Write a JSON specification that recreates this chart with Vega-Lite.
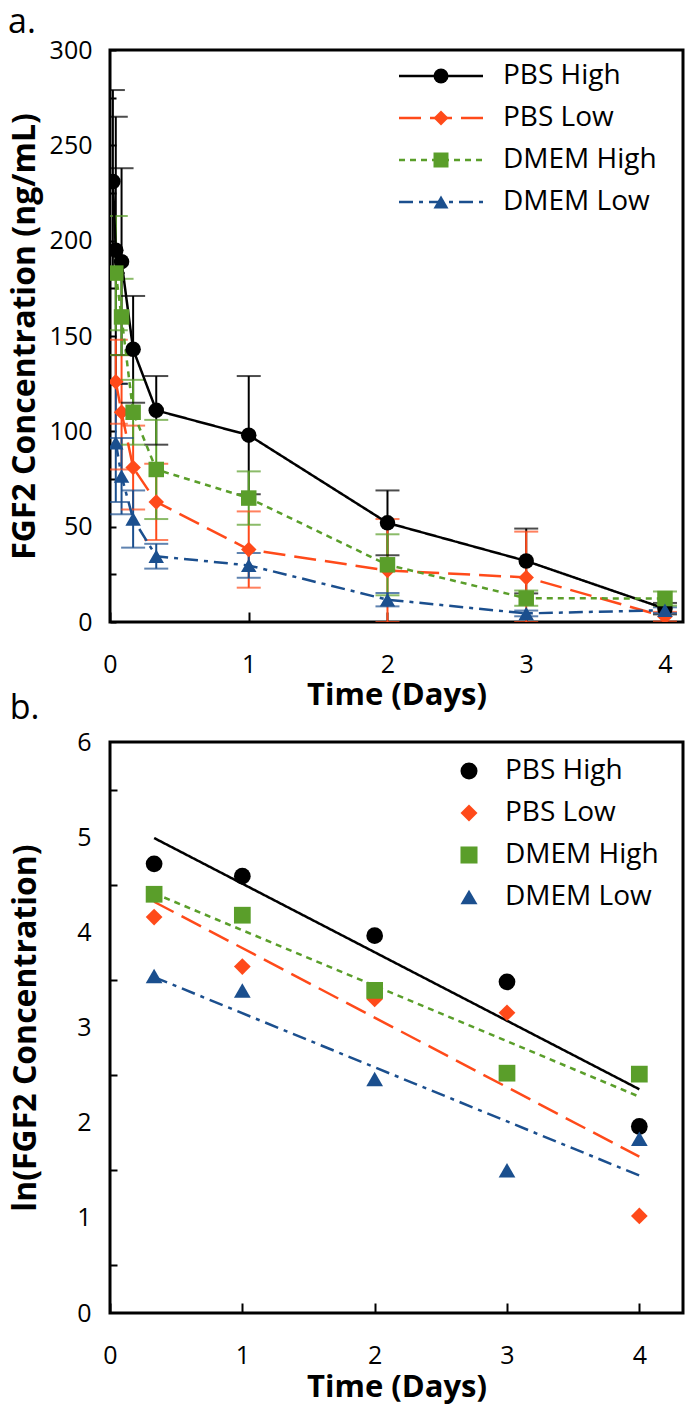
{
  "$schema": "https://vega.github.io/schema/vega-lite/v6.json",
  "background": "white",
  "padding": {"left": 6, "right": 5, "top": 4, "bottom": 3},
  "datasets": {
    "a": [
      {"s": "PBS High", "t": 0.0208, "v": 231, "lo": 183, "hi": 279},
      {"s": "PBS High", "t": 0.0417, "v": 195, "lo": 125, "hi": 265},
      {"s": "PBS High", "t": 0.0833, "v": 189, "lo": 140, "hi": 238},
      {"s": "PBS High", "t": 0.1667, "v": 143, "lo": 115, "hi": 171},
      {"s": "PBS High", "t": 0.3333, "v": 111, "lo": 93, "hi": 129},
      {"s": "PBS High", "t": 1, "v": 98, "lo": 67, "hi": 129},
      {"s": "PBS High", "t": 2, "v": 52, "lo": 35, "hi": 69},
      {"s": "PBS High", "t": 3, "v": 32, "lo": 15, "hi": 49},
      {"s": "PBS High", "t": 4, "v": 7, "lo": 4, "hi": 10},
      {"s": "PBS Low", "t": 0.0417, "v": 126, "lo": 104, "hi": 148},
      {"s": "PBS Low", "t": 0.0833, "v": 110, "lo": 80, "hi": 140},
      {"s": "PBS Low", "t": 0.1667, "v": 81, "lo": 59, "hi": 103},
      {"s": "PBS Low", "t": 0.3333, "v": 63, "lo": 43, "hi": 83},
      {"s": "PBS Low", "t": 1, "v": 38, "lo": 18, "hi": 58},
      {"s": "PBS Low", "t": 2, "v": 27, "lo": 0, "hi": 54},
      {"s": "PBS Low", "t": 3, "v": 23.4, "lo": 0, "hi": 47.4},
      {"s": "PBS Low", "t": 4, "v": 2.8, "lo": 0.3, "hi": 5.3},
      {"s": "DMEM High", "t": 0.0417, "v": 183, "lo": 153, "hi": 213},
      {"s": "DMEM High", "t": 0.0833, "v": 160, "lo": 140, "hi": 180},
      {"s": "DMEM High", "t": 0.1667, "v": 110, "lo": 93, "hi": 127},
      {"s": "DMEM High", "t": 0.3333, "v": 80, "lo": 54, "hi": 106},
      {"s": "DMEM High", "t": 1, "v": 65, "lo": 51, "hi": 79},
      {"s": "DMEM High", "t": 2, "v": 30, "lo": 14, "hi": 46},
      {"s": "DMEM High", "t": 3, "v": 12.5, "lo": 8.5, "hi": 16.5},
      {"s": "DMEM High", "t": 4, "v": 12.3, "lo": 8.6, "hi": 16},
      {"s": "DMEM Low", "t": 0.0417, "v": 94, "lo": 63, "hi": 125},
      {"s": "DMEM Low", "t": 0.0833, "v": 76.5, "lo": 56.5, "hi": 96.5},
      {"s": "DMEM Low", "t": 0.1667, "v": 54, "lo": 39, "hi": 69},
      {"s": "DMEM Low", "t": 0.3333, "v": 34.5, "lo": 28, "hi": 41},
      {"s": "DMEM Low", "t": 1, "v": 29.7, "lo": 23.2, "hi": 36.2},
      {"s": "DMEM Low", "t": 2, "v": 11.7, "lo": 8.2, "hi": 15.2},
      {"s": "DMEM Low", "t": 3, "v": 4.5, "lo": 3, "hi": 6},
      {"s": "DMEM Low", "t": 4, "v": 6.2, "lo": 4.7, "hi": 7.7}
    ],
    "b": [
      {"s": "PBS High", "t": 0.3333, "v": 4.72},
      {"s": "PBS High", "t": 1, "v": 4.59},
      {"s": "PBS High", "t": 2, "v": 3.965},
      {"s": "PBS High", "t": 3, "v": 3.48},
      {"s": "PBS High", "t": 4, "v": 1.96},
      {"s": "PBS Low", "t": 0.3333, "v": 4.16},
      {"s": "PBS Low", "t": 1, "v": 3.64},
      {"s": "PBS Low", "t": 2, "v": 3.3},
      {"s": "PBS Low", "t": 3, "v": 3.155},
      {"s": "PBS Low", "t": 4, "v": 1.02},
      {"s": "DMEM High", "t": 0.3333, "v": 4.4},
      {"s": "DMEM High", "t": 1, "v": 4.18},
      {"s": "DMEM High", "t": 2, "v": 3.39},
      {"s": "DMEM High", "t": 3, "v": 2.52},
      {"s": "DMEM High", "t": 4, "v": 2.51},
      {"s": "DMEM Low", "t": 0.3333, "v": 3.54},
      {"s": "DMEM Low", "t": 1, "v": 3.39},
      {"s": "DMEM Low", "t": 2, "v": 2.46},
      {"s": "DMEM Low", "t": 3, "v": 1.5},
      {"s": "DMEM Low", "t": 4, "v": 1.83}
    ]
  },
  "config": {
    "font": "Open Sans",
    "view": {"stroke": "black", "strokeWidth": 3},
    "axis": {
      "grid": false, "domain": false, "labelFlush": false,
      "labelFont": "Open Sans", "labelFontSize": 25, "labelColor": "black",
      "titleFont": "Open Sans", "titleFontSize": 31, "titleFontWeight": "bold", "titleColor": "black",
      "tickColor": "black", "tickWidth": 2
    },
    "axisY": {"titleFontSize": 32},
    "legend": {"labelFont": "Open Sans", "labelFontSize": 28, "labelColor": "black"},
    "title": {"font": "Open Sans", "fontSize": 34, "fontWeight": "normal", "color": "black", "anchor": "start", "frame": "bounds"}
  },
  "resolve": {
    "scale": {"color": "independent", "shape": "independent", "strokeDash": "independent"},
    "legend": {"color": "independent", "shape": "independent", "strokeDash": "independent"}
  },
  "spacing": -22,
  "vconcat": [
    {
      "width": 573,
      "height": 572,
      "title": {"text": "a.", "offset": -2},
      "data": {"name": "a"},
      "resolve": {
        "scale": {"color": "independent", "shape": "independent", "strokeDash": "independent"},
        "legend": {"color": "independent", "shape": "independent", "strokeDash": "independent"}
      },
      "encoding": {
        "x": {"field": "t", "type": "quantitative",
          "scale": {"domain": [0, 4.13], "nice": false, "zero": false},
          "axis": {"title": "Time (Days)", "values": [0, 1, 2, 3, 4], "tickSize": -10, "labelPadding": 40, "titlePadding": 3,
            "encode": {"labels": {"dy": {"value": 12}}}}},
        "y": {"field": "v", "type": "quantitative",
          "scale": {"domain": [0, 300], "nice": false},
          "axis": {"title": "FGF2 Concentration (ng/mL)", "values": [0, 25, 50, 75, 100, 125, 150, 175, 200, 225, 250, 275, 300],
            "labelExpr": "datum.value % 50 == 0 ? datum.label : ''", "tickSize": -6, "labelPadding": 24, "titlePadding": 8}}
      },
      "layer": [
        {
          "mark": {"type": "rule", "strokeWidth": 2, "clip": true},
          "encoding": {
            "y": {"field": "lo", "type": "quantitative"},
            "y2": {"field": "hi"},
            "color": {"field": "s", "type": "nominal", "legend": null,
              "scale": {"domain": ["PBS High", "PBS Low", "DMEM High", "DMEM Low"], "range": ["#000000", "#FF4A1A", "#5A9E2A", "#1B4F8E"]}}
          }
        },
        {
          "mark": {"type": "tick", "orient": "horizontal", "size": 24, "thickness": 2, "clip": true},
          "encoding": {
            "y": {"field": "hi", "type": "quantitative"},
            "color": {"field": "s", "type": "nominal", "legend": null,
              "scale": {"domain": ["PBS High", "PBS Low", "DMEM High", "DMEM Low"], "range": ["#000000", "#FF4A1A", "#5A9E2A", "#1B4F8E"]}}
          }
        },
        {
          "mark": {"type": "tick", "orient": "horizontal", "size": 24, "thickness": 2, "clip": true},
          "encoding": {
            "y": {"field": "lo", "type": "quantitative"},
            "color": {"field": "s", "type": "nominal", "legend": null,
              "scale": {"domain": ["PBS High", "PBS Low", "DMEM High", "DMEM Low"], "range": ["#000000", "#FF4A1A", "#5A9E2A", "#1B4F8E"]}}
          }
        },
        {
          "mark": {"type": "line", "strokeWidth": 2.5, "clip": true},
          "encoding": {
            "color": {"field": "s", "type": "nominal",
              "legend": {"title": null, "orient": "none", "legendX": 317, "legendY": 12, "padding": 0,
                "symbolSize": 225, "symbolType": "M-5.6,0H5.6", "symbolStrokeWidth": 2.5,
                "labelOffset": 48, "rowPadding": 14, "labelFontSize": 28, "labelOpacity": 0},
              "scale": {"domain": ["PBS High", "PBS Low", "DMEM High", "DMEM Low"], "range": ["#000000", "#FF4A1A", "#5A9E2A", "#1B4F8E"]}},
            "strokeDash": {"field": "s", "type": "nominal",
              "legend": {"title": null, "orient": "none", "legendX": 317, "legendY": 12, "padding": 0,
                "symbolSize": 225, "symbolType": "M-5.6,0H5.6", "symbolStrokeWidth": 2.5,
                "labelOffset": 48, "rowPadding": 14, "labelFontSize": 28, "labelOpacity": 0},
              "scale": {"domain": ["PBS High", "PBS Low", "DMEM High", "DMEM Low"], "range": [[1, 0], [22, 9], [6, 5], [14, 6, 4, 6]]}}
          }
        },
        {
          "mark": {"type": "point", "filled": true, "opacity": 1, "size": 240, "clip": true},
          "encoding": {
            "color": {"field": "s", "type": "nominal",
              "legend": {"title": null, "orient": "none", "legendX": 317, "legendY": 12, "padding": 0,
                "symbolSize": 225, "symbolStrokeWidth": 0, "symbolOpacity": 1,
                "labelOffset": 48, "rowPadding": 14, "labelFontSize": 28},
              "scale": {"domain": ["PBS High", "PBS Low", "DMEM High", "DMEM Low"], "range": ["#000000", "#FF4A1A", "#5A9E2A", "#1B4F8E"]}},
            "shape": {"field": "s", "type": "nominal",
              "legend": {"title": null, "orient": "none", "legendX": 317, "legendY": 12, "padding": 0,
                "symbolSize": 225, "symbolStrokeWidth": 0, "symbolOpacity": 1,
                "labelOffset": 48, "rowPadding": 14, "labelFontSize": 28},
              "scale": {"domain": ["PBS High", "PBS Low", "DMEM High", "DMEM Low"], "range": ["circle", "diamond", "square", "triangle-up"]}}
          }
        }
      ]
    },
    {
      "width": 573,
      "height": 571,
      "title": {"text": "b.", "offset": 4},
      "data": {"name": "b"},
      "encoding": {
        "x": {"field": "t", "type": "quantitative",
          "scale": {"domain": [0, 4.33], "nice": false, "zero": false},
          "axis": {"title": "Time (Days)", "values": [0, 1, 2, 3, 4], "tickSize": -10, "labelPadding": 40, "titlePadding": 4}},
        "y": {"field": "v", "type": "quantitative",
          "scale": {"domain": [0, 6], "nice": false},
          "axis": {"title": "ln(FGF2 Concentration)", "values": [0, 0.5, 1, 1.5, 2, 2.5, 3, 3.5, 4, 4.5, 5, 5.5, 6],
            "format": "~g",
            "labelExpr": "datum.value % 1 == 0 ? datum.label : ''",
            "tickOpacity": {"condition": {"test": "datum.value % 1 == 0", "value": 0}, "value": 1},
            "tickSize": -7, "labelPadding": 26, "titlePadding": 34}}
      },
      "layer": [
        {
          "transform": [{"regression": "v", "on": "t", "groupby": ["s"]}],
          "mark": {"type": "line", "strokeWidth": 2.5},
          "encoding": {
            "color": {"field": "s", "type": "nominal",
              "scale": {"domain": ["PBS High", "PBS Low", "DMEM High", "DMEM Low"], "range": ["#000000", "#FF4A1A", "#5A9E2A", "#1B4F8E"]}},
            "strokeDash": {"field": "s", "type": "nominal", "legend": null,
              "scale": {"domain": ["PBS High", "PBS Low", "DMEM High", "DMEM Low"], "range": [[1, 0], [22, 9], [6, 5], [14, 6, 4, 6]]}}
          }
        },
        {
          "mark": {"type": "point", "filled": true, "opacity": 1, "size": 280},
          "encoding": {
            "color": {"field": "s", "type": "nominal",
              "legend": {"title": null, "orient": "none", "legendX": 345, "legendY": 15, "padding": 0, "symbolSize": 290, "labelOffset": 22, "rowPadding": 14, "labelFontSize": 28, "symbolStrokeWidth": 0, "symbolOpacity": 1},
              "scale": {"domain": ["PBS High", "PBS Low", "DMEM High", "DMEM Low"], "range": ["#000000", "#FF4A1A", "#5A9E2A", "#1B4F8E"]}},
            "shape": {"field": "s", "type": "nominal",
              "legend": {"title": null, "orient": "none", "legendX": 345, "legendY": 15, "padding": 0, "symbolSize": 290, "labelOffset": 22, "rowPadding": 14, "labelFontSize": 28, "symbolStrokeWidth": 0, "symbolOpacity": 1},
              "scale": {"domain": ["PBS High", "PBS Low", "DMEM High", "DMEM Low"], "range": ["circle", "diamond", "square", "triangle-up"]}}
          }
        }
      ]
    }
  ]
}
